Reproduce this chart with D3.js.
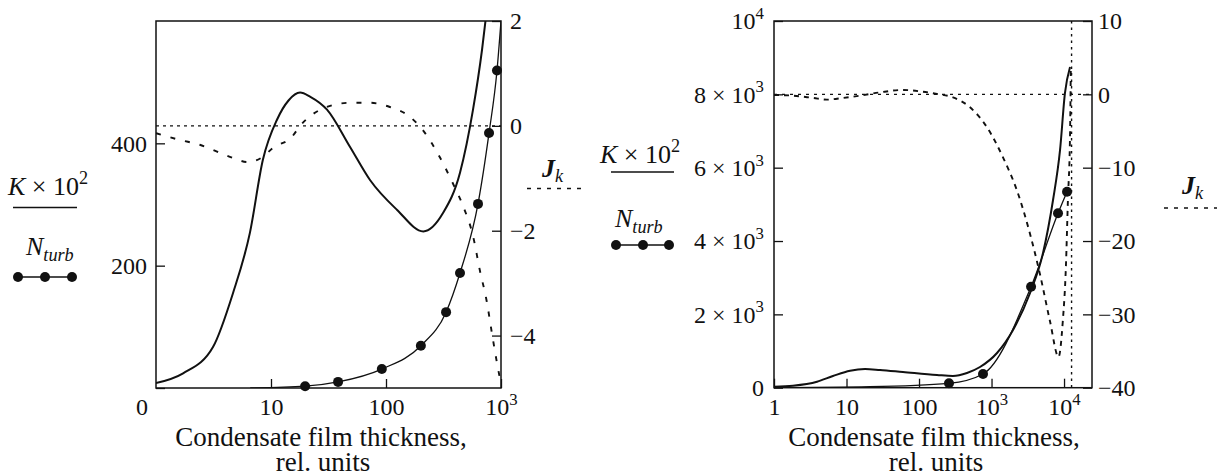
<!DOCTYPE html>
<html>
<head>
<meta charset="utf-8">
<script src="https://cdn.jsdelivr.net/npm/d3@7"></script>
<style>
  body { margin: 0; background: #fff; }
  svg text { fill: #111; }
</style>
</head>
<body>
<svg id="chart" width="1217" height="476"></svg>
<script>
// values: [film thickness, value]
// left panel (thickness up to 10^3)
const kLeft = [[1,8],[1.72,24],[3.13,67],[4.67,155],[6.56,254],[8.5,373],[11.3,439],[14.2,470],[17.9,483],
  [22,476],[30.7,455],[48.7,394],[72.6,340],[125,291],[211,256],[313,286],[440,352],[571,455],[684,553],[760,625]];
const nLeft = [[6.6,0],[19.8,3],[38.3,10],[92,31],[201,69],[333,124],[440,188],[631,301],[787,417],[923,519],[1000,600]];
const jLeft = [[1,-0.14],[1.62,-0.27],[2.4,-0.36],[3.39,-0.49],[4.67,-0.61],[6.2,-0.69],[8.5,-0.59],[10.4,-0.42],
  [15.2,-0.21],[18.2,0.02],[22.7,0.21],[30.6,0.36],[48.7,0.44],[72.6,0.44],[108,0.36],[162,0.17],[209,-0.08],
  [294,-0.6],[382,-1.1],[472,-1.55],[571,-2.1],[654,-2.75],[752,-3.35],[833,-3.95],[919,-4.5],[985,-4.85]];

// right panel (thickness up to ~2.4x10^4)
const kRight = [[1,27],[1.83,55],[3.92,164],[6.5,319],[11.2,464],[18,510],[29,483],[60,428],[177,346],[294,319],
  [459,401],[693,564],[1190,946],[1980,1574],[3400,2583],[5130,3674],[7050,5119],[8810,6483],[10300,8038],[12100,8747]];
const nRight = [[1,0],[21,27],[259,120],[763,374],[3510,2754],[8260,4756],[11000,5345]];
const jRight = [[1,-0.08],[1.83,-0.18],[3.45,-0.49],[5.38,-0.72],[8.94,-0.49],[15.3,-0.18],[29,0.27],[60,0.6],
  [103,0.41],[177,0.05],[294,-0.41],[505,-1.77],[867,-4.5],[1440,-8.6],[2240,-13.1],[3390,-19.0],[4650,-24.5],
  [6390,-30.9],[8400,-35.8],[9620,-30.9],[10600,-23.6],[11300,-14.5],[12100,-5.4],[12400,3.5]];
const rightLimit = 12700;

// ticks
const xTicksLeft = [10, 100, 1000];
const xTicksRight = [1, 10, 100, 1000, 10000];
const kTicksLeft = [0, 200, 400];
const kTicksRight = [0, 2000, 4000, 6000, 8000, 10000];
const jTicksLeft = [2, 0, -2, -4];
const jTicksRight = [10, 0, -10, -20, -30, -40];

const ink = '#111';
const serif = "'Liberation Serif', 'Times New Roman', serif";
const svg = d3.select('#chart').attr('font-family', serif);
svg.append('rect').attr('width', 1217).attr('height', 476).attr('fill', '#fff');

// write a label that may carry a superscript: string or [base, exponent]
function setLabel(t, v) {
  t.text(null);
  if (Array.isArray(v)) {
    t.append('tspan').text(v[0]);
    t.append('tspan').attr('font-size', '0.7em').attr('dy', '-0.6em').text(v[1]);
  } else {
    t.text(v);
  }
}
const minus = d => d < 0 ? '\u2212' + Math.abs(d) : String(d);
const pow10 = d => {
  const e = Math.round(Math.log10(d));
  return e >= 3 ? ['10', String(e)] : String(d);
};
const kFmtRight = d => {
  if (d === 0) return '0';
  if (d === 10000) return ['10', '4'];
  return [(d / 1000) + ' \u00d7 10', '3'];
};

function styleAxis(a, size) {
  a.attr('font-family', serif);
  a.select('.domain').remove();
  a.selectAll('.tick line').attr('stroke', ink).attr('stroke-width', 1.3);
  a.selectAll('.tick text').attr('font-size', size).attr('font-family', serif).attr('fill', ink);
}

function drawPanel(p) {
  const x = d3.scaleLog().domain(p.xDomain).range([p.x0, p.x1]);
  const y = d3.scaleLinear().domain(p.kDomain).range([p.y1, p.y0]);
  const yj = d3.scaleLinear().domain(p.jDomain).range([p.y1, p.y0]);
  const g = svg.append('g').attr('font-family', serif);

  g.append('clipPath').attr('id', 'clip' + p.id).append('rect')
    .attr('x', p.x0).attr('y', p.y0).attr('width', p.x1 - p.x0).attr('height', p.y1 - p.y0);
  const plot = g.append('g').attr('clip-path', `url(#clip${p.id})`);

  // axes, ticks pointing inward
  const xa = g.append('g').attr('transform', `translate(0,${p.y1})`)
    .call(d3.axisBottom(x).tickValues(p.xTicks).tickSizeInner(-9).tickSizeOuter(0).tickPadding(10));
  styleAxis(xa, 24);
  xa.selectAll('.tick text').each(function(d) { setLabel(d3.select(this), pow10(d)); });

  const ya = g.append('g').attr('transform', `translate(${p.x0},0)`)
    .call(d3.axisLeft(y).tickValues(p.kTicks).tickSizeInner(-9).tickSizeOuter(0).tickPadding(p.padL));
  styleAxis(ya, 24);
  ya.selectAll('.tick text').each(function(d) { setLabel(d3.select(this), p.kFmt(d)); });
  if (p.zeroShift) ya.selectAll('.tick text').filter(d => d === 0).attr('y', p.zeroShift[1]).attr('x', p.zeroShift[0]);

  const ja = g.append('g').attr('transform', `translate(${p.x1},0)`)
    .call(d3.axisRight(yj).tickValues(p.jTicks).tickSizeInner(-9).tickSizeOuter(0).tickPadding(p.padR).tickFormat(minus));
  styleAxis(ja, 24);

  // J = 0 reference
  plot.append('line')
    .attr('x1', p.x0).attr('x2', p.x1).attr('y1', yj(0)).attr('y2', yj(0))
    .attr('stroke', ink).attr('stroke-width', 1.4).attr('stroke-dasharray', p.zeroDash);

  if (p.limit) {
    plot.append('line')
      .attr('x1', x(p.limit)).attr('x2', x(p.limit)).attr('y1', p.y0).attr('y2', p.y1)
      .attr('stroke', ink).attr('stroke-width', 1.4).attr('stroke-dasharray', '2.5,4');
  }

  const lineK = d3.line().x(d => x(d[0])).y(d => y(d[1])).curve(d3.curveMonotoneX);
  const lineJ = d3.line().x(d => x(d[0])).y(d => yj(d[1])).curve(d3.curveMonotoneX);

  plot.append('path').datum(p.j).attr('d', lineJ)
    .attr('fill', 'none').attr('stroke', ink).attr('stroke-width', 1.9).attr('stroke-dasharray', p.jDash);
  plot.append('path').datum(p.k).attr('d', lineK)
    .attr('fill', 'none').attr('stroke', ink).attr('stroke-width', 2);
  plot.append('path').datum(p.n).attr('d', lineK)
    .attr('fill', 'none').attr('stroke', ink).attr('stroke-width', 1.3);
  g.selectAll('circle.dot').data(p.n.slice(p.dotFrom, p.dotTo)).join('circle')
    .attr('class', 'dot')
    .attr('cx', d => x(d[0])).attr('cy', d => y(d[1])).attr('r', 5).attr('fill', ink);

  // frame
  g.append('rect')
    .attr('x', p.x0).attr('y', p.y0).attr('width', p.x1 - p.x0).attr('height', p.y1 - p.y0)
    .attr('fill', 'none').attr('stroke', ink).attr('stroke-width', 1.5);

  // axis title, two lines
  g.append('text').attr('text-anchor', 'middle').attr('font-size', 27)
    .attr('x', p.titleX).attr('y', 446).text('Condensate film thickness,');
  g.append('text').attr('text-anchor', 'middle').attr('font-size', 27)
    .attr('x', p.titleX + 2).attr('y', 471).text('rel. units');

  // legend: K x 10^2 (solid), N_turb (dots), J_k (dashed)
  const L = p.legend;
  const kt = g.append('text').attr('x', L.kx).attr('y', L.ky).attr('font-size', 26);
  kt.append('tspan').attr('font-style', 'italic').text('K');
  kt.append('tspan').text(' \u00d7 10');
  kt.append('tspan').attr('font-size', '0.7em').attr('dy', '-0.6em').text('2');
  g.append('line').attr('x1', L.ul[0]).attr('x2', L.ul[1]).attr('y1', L.uy).attr('y2', L.uy)
    .attr('stroke', ink).attr('stroke-width', 1.6);

  const nt = g.append('text').attr('x', L.nx).attr('y', L.ny).attr('font-size', 26).attr('font-style', 'italic');
  nt.append('tspan').text('N');
  nt.append('tspan').attr('font-size', '0.7em').attr('dy', '0.35em').text('turb');
  g.append('line').attr('x1', L.dots[0]).attr('x2', L.dots[2]).attr('y1', L.dy).attr('y2', L.dy)
    .attr('stroke', ink).attr('stroke-width', 1.3);
  g.selectAll('circle.leg').data(L.dots).join('circle').attr('class', 'leg')
    .attr('cx', d => d).attr('cy', L.dy).attr('r', 5).attr('fill', ink);

  const jt = g.append('text').attr('x', L.jx).attr('y', L.jy).attr('font-size', 26).attr('font-style', 'italic');
  jt.append('tspan').attr('font-weight', 'bold').text('J');
  jt.append('tspan').attr('font-size', '0.7em').attr('dy', '0.3em').text('k');
  g.append('line').attr('x1', L.jl[0]).attr('x2', L.jl[1]).attr('y1', L.jly).attr('y2', L.jly)
    .attr('stroke', ink).attr('stroke-width', 1.4).attr('stroke-dasharray', '4,6');
}

drawPanel({
  id: 'L', x0: 156, x1: 501, y0: 21, y1: 388,
  xDomain: [1, 1000], kDomain: [0, 600], jDomain: [-5, 2],
  xTicks: xTicksLeft, kTicks: kTicksLeft, jTicks: jTicksLeft,
  kFmt: d => String(d), padL: 9, padR: 9, zeroShift: [-8, 19],
  k: kLeft, n: nLeft, j: jLeft, dotFrom: 1, dotTo: -1,
  zeroDash: '3,4', jDash: '5,10', titleX: 321,
  legend: { kx: 8, ky: 195, ul: [13, 77], uy: 207.5, nx: 26, ny: 255, dots: [18, 45, 72], dy: 277,
            jx: 542, jy: 177, jl: [527, 583], jly: 188.5 }
});

drawPanel({
  id: 'R', x0: 774, x1: 1092, y0: 21, y1: 387.7,
  xDomain: [1, 24300], kDomain: [0, 10000], jDomain: [-40, 10],
  xTicks: xTicksRight, kTicks: kTicksRight, jTicks: jTicksRight,
  kFmt: kFmtRight, padL: 10, padR: 6,
  k: kRight, n: nRight, j: jRight, dotFrom: 2, dotTo: undefined, limit: rightLimit,
  zeroDash: '3,5', jDash: '5,5', titleX: 934,
  legend: { kx: 600, ky: 163, ul: [611, 674], uy: 172, nx: 615, ny: 227, dots: [616, 643, 669], dy: 245,
            jx: 1182, jy: 194, jl: [1164, 1217], jly: 208 }
});
</script>
</body>
</html>
